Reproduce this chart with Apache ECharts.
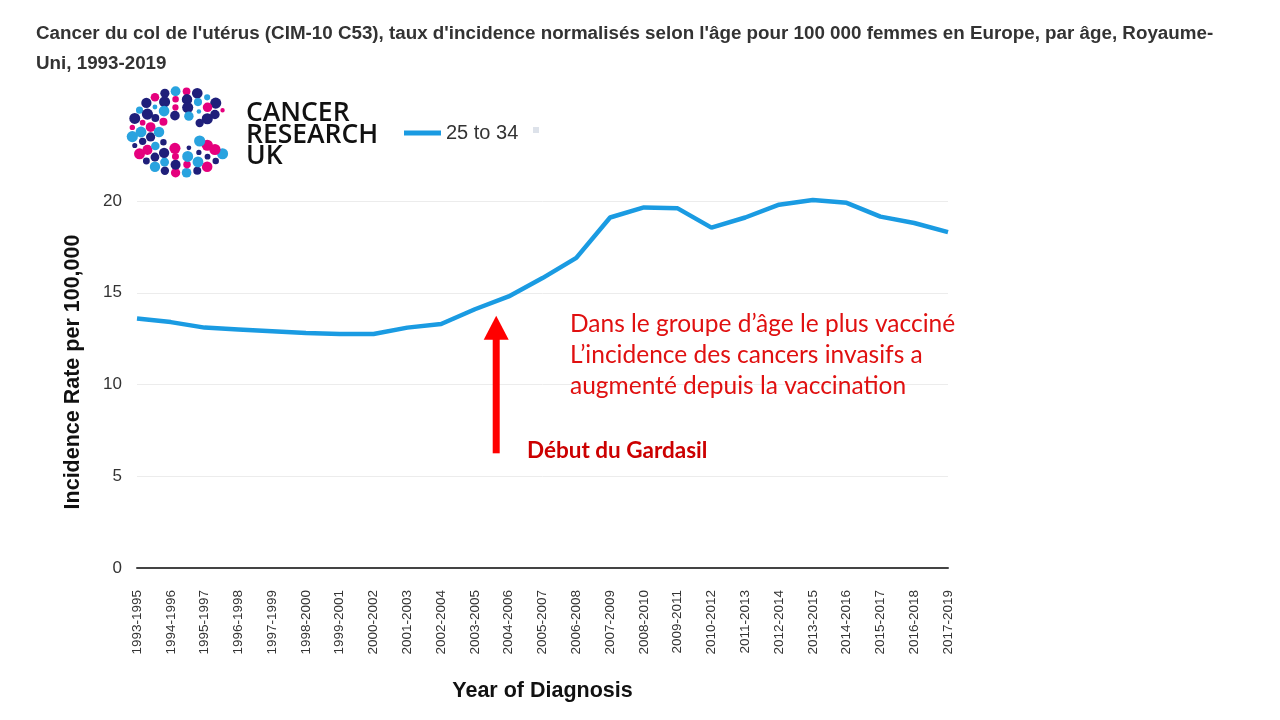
<!DOCTYPE html>
<html><head><meta charset="utf-8">
<script src="https://cdn.jsdelivr.net/npm/echarts@6/dist/echarts.min.js"></script>
<style>html,body{margin:0;padding:0;background:#fff}#c{width:1280px;height:720px}</style>
</head><body><div id="c"></div>
<script>
const categories = ['1993-1995','1994-1996','1995-1997','1996-1998','1997-1999','1998-2000','1999-2001','2000-2002','2001-2003','2002-2004','2003-2005','2004-2006','2005-2007','2006-2008','2007-2009','2008-2010','2009-2011','2010-2012','2011-2013','2012-2014','2013-2015','2014-2016','2015-2017','2016-2018','2017-2019'];
const rate25to34 = [13.6,13.4,13.1,13.0,12.9,12.8,12.75,12.75,13.1,13.3,14.1,14.8,15.8,16.9,19.1,19.65,19.6,18.55,19.1,19.8,20.05,19.9,19.15,18.8,18.3];
const yTicks = [0,5,10,15,20];
const seriesName = '25 to 34';
const titleLines = ["Cancer du col de l'utérus (CIM-10 C53), taux d'incidence normalisés selon l'âge pour 100 000 femmes en Europe, par âge, Royaume-", "Uni, 1993-2019"];
const noteLines = ['Dans le groupe d\u2019âge le plus vacciné', 'L\u2019incidence des cancers invasifs a', 'augmenté depuis la vaccination'];
const arrowLabel = 'Début du Gardasil';
const yAxisTitle = 'Incidence Rate per 100,000';
const xAxisTitle = 'Year of Diagnosis';

const chart = echarts.init(document.getElementById('c'));
const BLUE = '#1a9be2';

// decorative logo dots (C shape)
function logoDots(){
  const cx = 181, cy = 132;
  const rings = [[49,41,24],[40,33,19],[31,25,14],[22,17,9]];
  const cols = ['#e5007d','#1f1f7a','#29a3df','#1f1f7a','#e5007d','#29a3df','#1f1f7a'];
  const out = [];
  let k = 0;
  rings.forEach((rg, ri) => {
    const [rx, ry, n] = rg;
    for (let i = 0; i < n; i++) {
      const a = (32 + (296 * i) / (n - 1)) * Math.PI / 180;
      const s = 2.2 + 3.4 * Math.abs(Math.sin(i * 1.7 + ri * 2.3));
      out.push({type:'circle', shape:{cx: cx + rx * Math.cos(a), cy: cy - ry * Math.sin(a), r: s}, style:{fill: cols[(k++) % cols.length]}, silent:true});
    }
  });
  return out;
}

const option = {
  backgroundColor: '#fff',
  animation: false,
  grid: {left: 137, right: 332, top: 201, bottom: 152, containLabel: false},
  legend: {
    left: 399, top: 118, icon: 'rect', itemWidth: 37, itemHeight: 5,
    textStyle: {fontSize: 20, color: '#333', fontFamily: 'Liberation Sans'},
    data: [seriesName]
  },
  xAxis: {
    type: 'category', data: categories, boundaryGap: false,
    axisLine: {lineStyle: {color: '#444', width: 2}},
    axisTick: {show: false},
    axisLabel: {rotate: 90, fontSize: 13.5, color: '#333', margin: 22, fontFamily: 'Liberation Sans', interval: 0},
    name: xAxisTitle, nameLocation: 'middle', nameGap: 112,
    nameTextStyle: {fontSize: 21.5, fontWeight: 'bold', color: '#111', fontFamily: 'Liberation Sans'}
  },
  yAxis: {
    type: 'value', min: yTicks[0], max: yTicks[yTicks.length-1], interval: 5,
    axisLine: {show: false}, axisTick: {show: false},
    splitLine: {lineStyle: {color: '#ececec', width: 1}},
    axisLabel: {fontSize: 17, color: '#333', margin: 15, fontFamily: 'Liberation Sans'}
  },
  series: [{
    name: seriesName, type: 'line', data: rate25to34, showSymbol: false, clip: false,
    lineStyle: {color: BLUE, width: 4.5}, itemStyle: {color: BLUE}
  }]
};
chart.setOption(option);

// annotation arrow positioned via axes
const x10 = chart.convertToPixel({xAxisIndex:0}, categories[10]);
const x11 = chart.convertToPixel({xAxisIndex:0}, categories[11]);
const ax = x10 + (x11 - x10) * 0.63;
const yBot = chart.convertToPixel({yAxisIndex:0}, 6.25);
const yTop = chart.convertToPixel({yAxisIndex:0}, 13.75);
const headH = 24;

const graphics = [
  {type:'text', left: 36, top: 19, style:{text: titleLines.join('\n'), fontSize: 18.8, fontWeight:'bold', fill:'#333', fontFamily:'Liberation Sans', lineHeight: 30}},
  {type:'text', x: 246, y: 103, style:{text:'CANCER\nRESEARCH\nUK', fontSize: 26.5, fontWeight: 600, fill:'#111', fontFamily:'Open Sans', lineHeight: 21.5}},
  {type:'text', x: 73, y: 372, rotation: Math.PI/2, style:{text: yAxisTitle, fontSize: 21.5, fontWeight:'bold', fill:'#111', fontFamily:'Liberation Sans', align:'center', verticalAlign:'middle'}},
  {type:'rect', shape:{x:533, y:127, width:6, height:6}, style:{fill:'#dde2ea'}},
  {type:'rect', shape:{x: ax - 3.5, y: yTop + headH - 2, width: 7, height: yBot - yTop - headH + 2}, style:{fill:'#ff0000'}},
  {type:'polygon', shape:{points:[[ax, yTop],[ax - 12.5, yTop + headH],[ax + 12.5, yTop + headH]]}, style:{fill:'#ff0000'}},
  {type:'text', x: 527, y: 451, style:{text: arrowLabel, fontSize: 22.5, fontWeight:'bold', fill:'#cc0000', fontFamily:'Lato', verticalAlign:'middle'}},
  {type:'text', x: 570, y: 308.5, style:{text: noteLines.join('\n'), fontSize: 24.5, fill:'#e01010', fontFamily:'Lato', lineHeight: 31}}
].concat(logoDots());
chart.setOption({graphic: graphics});
</script>
</body></html>
